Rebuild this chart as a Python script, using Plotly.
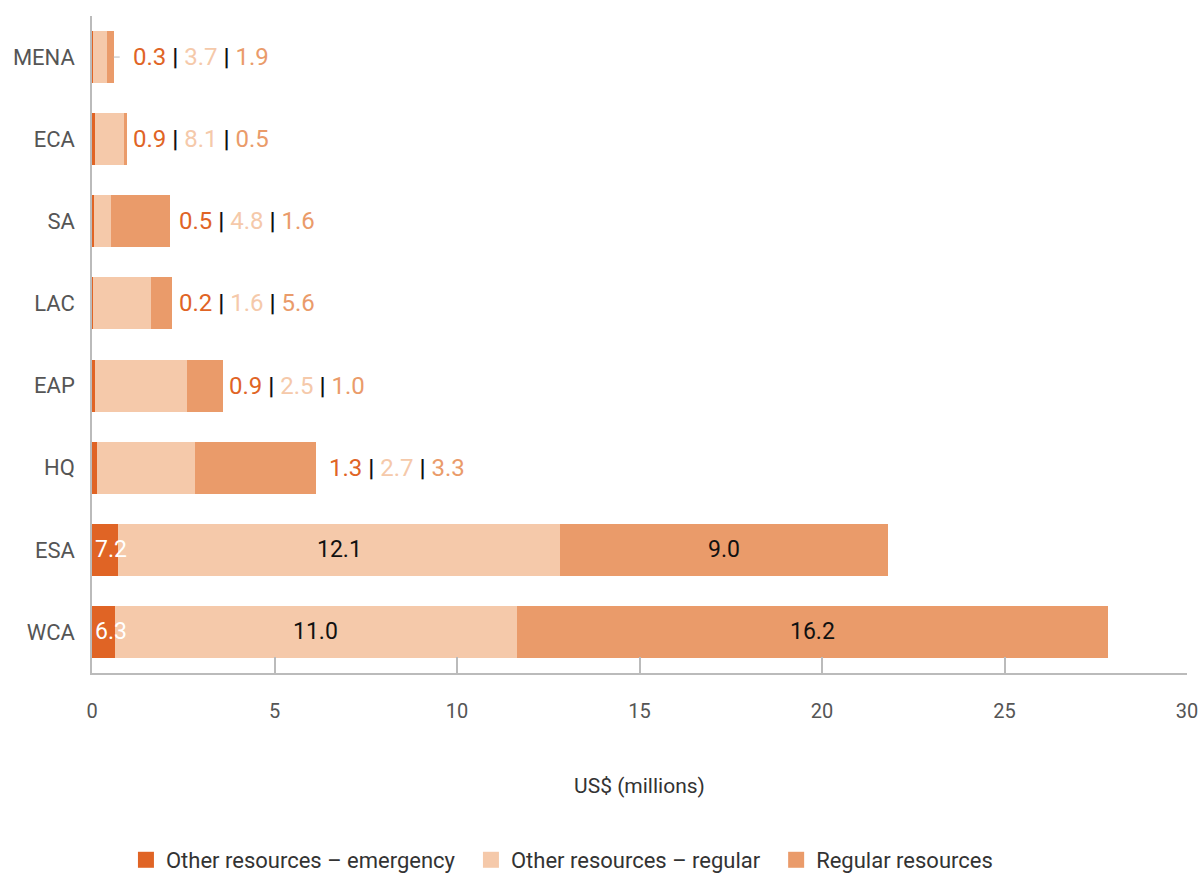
import plotly.graph_objects as go

# ---- data ----
regions = ["MENA", "ECA", "SA", "LAC", "EAP", "HQ", "ESA", "WCA"]
emergency = [0.03, 0.09, 0.05, 0.02, 0.09, 0.13, 0.72, 0.63]
other_regular = [0.37, 0.81, 0.48, 1.6, 2.5, 2.7, 12.1, 11.0]
regular = [0.19, 0.05, 1.6, 0.56, 1.0, 3.3, 9.0, 16.2]

emergency_labels = ["0.3", "0.9", "0.5", "0.2", "0.9", "1.3", "7.2", "6.3"]
other_regular_labels = ["3.7", "8.1", "4.8", "1.6", "2.5", "2.7", "12.1", "11.0"]
regular_labels = ["1.9", "0.5", "1.6", "5.6", "1.0", "3.3", "9.0", "16.2"]

series_names = ["Other resources \u2013 emergency", "Other resources \u2013 regular", "Regular resources"]

# ---- styling / layout ----
C_EM = "#E06425"
C_OR = "#F5C9AA"
C_RR = "#EA9B6A"
FONT = "Roboto"
side_label_x = [1.08, 1.08, 2.33, 2.33, 3.70, 6.45]  # where the outside labels start

fig = go.Figure()
for name, vals, col in zip(series_names, [emergency, other_regular, regular], [C_EM, C_OR, C_RR]):
    fig.add_trace(go.Bar(
        y=regions, x=vals, name=name, orientation="h",
        marker=dict(color=col, line=dict(width=0)),
        hoverinfo="x+name", showlegend=False, legendgroup=name,
    ))
# legend entries with larger square swatches (trailing spaces widen the item gap)
for name, col in zip(series_names, [C_EM, C_OR, C_RR]):
    fig.add_trace(go.Scatter(
        x=[None], y=[None], mode="markers", name=name + "\u00a0\u00a0", legendgroup=name,
        marker=dict(symbol="square", size=16, color=col, line=dict(width=0)),
        showlegend=True, hoverinfo="skip",
    ))

annotations = []
SEP = " <span style='color:#111111'><b>|</b></span> "
# outside labels for the small bars
for i, xpos in enumerate(side_label_x):
    txt = (f"<span style='color:{C_EM}'>{emergency_labels[i]}</span>" + SEP +
           f"<span style='color:{C_OR}'>{other_regular_labels[i]}</span>" + SEP +
           f"<span style='color:{C_RR}'>{regular_labels[i]}</span>")
    annotations.append(dict(x=xpos, y=regions[i], xref="x", yref="y", text=txt,
                            showarrow=False, xanchor="left", yanchor="middle",
                            font=dict(family=FONT, size=24)))

# inside labels for the large bars
for i in range(len(side_label_x), len(regions)):
    annotations.append(dict(x=0, y=regions[i], xref="x", yref="y", text=emergency_labels[i],
                            showarrow=False, xanchor="left", yanchor="middle", xshift=1,
                            font=dict(family=FONT, size=23, color="white")))
    mid_or = emergency[i] + other_regular[i] / 2
    annotations.append(dict(x=mid_or, y=regions[i], xref="x", yref="y", text=other_regular_labels[i],
                            showarrow=False, xanchor="center", yanchor="middle",
                            font=dict(family=FONT, size=23, color="#111111")))
    mid_rr = emergency[i] + other_regular[i] + regular[i] / 2
    annotations.append(dict(x=mid_rr, y=regions[i], xref="x", yref="y", text=regular_labels[i],
                            showarrow=False, xanchor="center", yanchor="middle",
                            font=dict(family=FONT, size=23, color="#111111")))

# small leader tick after the MENA bar
mena_total = emergency[0] + other_regular[0] + regular[0]
shapes = [dict(type="line", xref="x", yref="y", x0=mena_total, x1=mena_total + 0.17,
               y0=regions[0], y1=regions[0], line=dict(color="#BBBBBB", width=1))]

fig.update_layout(
    barmode="stack",
    bargap=0.366,
    width=1201, height=874,
    margin=dict(l=92, r=14, t=16, b=201, autoexpand=False),
    paper_bgcolor="white", plot_bgcolor="white",
    font=dict(family=FONT, color="#555555"),
    annotations=annotations,
    shapes=shapes,
    showlegend=True,
    legend=dict(orientation="h", x=0.031, y=-0.2846, xanchor="left", yanchor="middle",
                font=dict(family=FONT, size=22, color="#333333"),
                traceorder="normal", itemsizing="trace"),
)

fig.update_xaxes(
    range=[0, 30], tickvals=[0, 5, 10, 15, 20, 25, 30],
    showgrid=False, zeroline=False, automargin=False,
    showline=True, linecolor="#BBBBBB", linewidth=1.5,
    ticks="inside", ticklen=16, tickcolor="#BBBBBB", tickwidth=1.5,
    tickfont=dict(family=FONT, size=20, color="#555555"),
    ticklabelstandoff=19,
    title=dict(text="US$ (millions)", font=dict(family=FONT, size=21, color="#333333"), standoff=57),
)
fig.update_yaxes(
    autorange=False, range=[7.5, -0.5], automargin=False,
    showgrid=False, zeroline=False,
    showline=True, linecolor="#BBBBBB", linewidth=1.5,
    ticks="", ticklabelstandoff=11,
    tickfont=dict(family=FONT, size=22, color="#555555"),
)

fig.write_html(
    "out.html",
    config={"displayModeBar": False},
    post_script="document.body.style.margin='0';document.body.style.overflow='hidden';",
)
